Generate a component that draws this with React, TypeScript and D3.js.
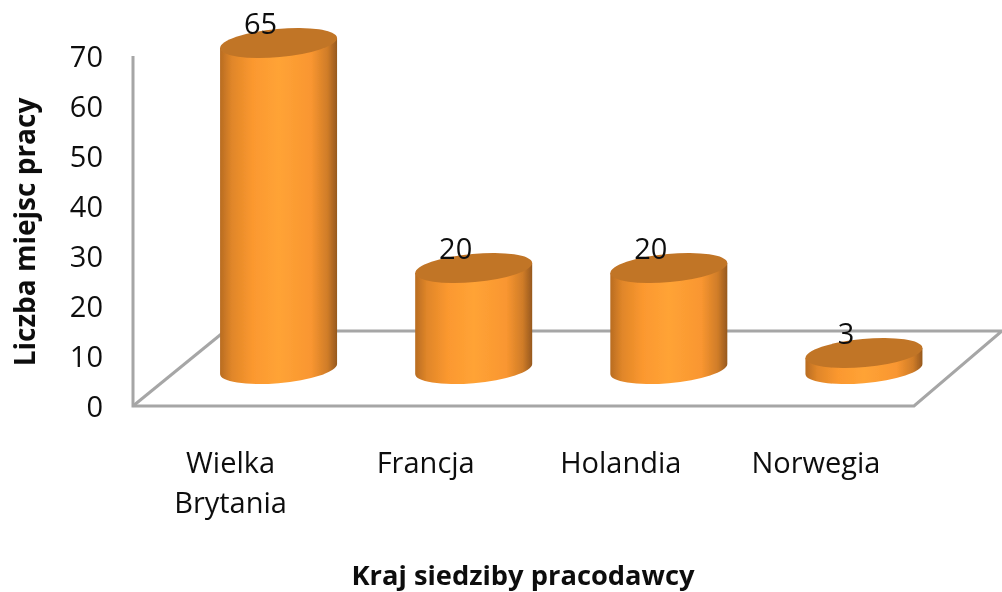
import React from "react";
import * as d3 from "d3";

const categories = ["Wielka Brytania", "Francja", "Holandia", "Norwegia"];
const categoryLines = [["Wielka", "Brytania"], ["Francja"], ["Holandia"], ["Norwegia"]];
const values = [65, 20, 20, 3];
const ticks = [0, 10, 20, 30, 40, 50, 60, 70];
const yTitle = "Liczba miejsc pracy";
const xTitle = "Kraj siedziby pracodawcy";

const W = 1002, H = 592;
const FONT = "'Open Sans', 'Noto Sans', sans-serif";

export default function App() {
  const y = d3.scaleLinear().domain([0, 70]).range([406, 56]);
  // band position of each cylinder on the floor
  const x = d3.scaleBand().domain(categories).range([181, 961.5]).paddingInner(0).paddingOuter(0);
  const depthY = 37;
  const a = 58.7, b = 14.1, rot = -5.2, hw = 58.5, tan = 5;
  const axis = "#a6a6a6";

  return (
    <svg width={W} height={H} viewBox={`0 0 ${W} ${H}`} style={{ position: "absolute", left: 0, top: 0, display: "block", background: "#fff" }}>
      <defs>
        <linearGradient id="cyl" x1="0" x2="1" y1="0" y2="0">
          <stop offset="0" stopColor="#b86c22" />
          <stop offset="0.1" stopColor="#e08629" />
          <stop offset="0.28" stopColor="#fb982f" />
          <stop offset="0.5" stopColor="#ffa336" />
          <stop offset="0.78" stopColor="#f99630" />
          <stop offset="0.92" stopColor="#cf7c28" />
          <stop offset="1" stopColor="#96581e" />
        </linearGradient>
        <filter id="soft" x="-5%" y="-5%" width="110%" height="110%">
          <feGaussianBlur stdDeviation="0.6" />
        </filter>
      </defs>
      <g filter="url(#soft)">
        <g fill="none" stroke={axis} strokeWidth={3}>
          <path d={`M133 ${y(70)}V${y(0)}H914L1002 331H${x(categories[0])! + 50}`} />
          <path d={`M${y(0) - 273} ${y(0)}L225 331`} />
        </g>
        {categories.map((c, i) => {
          const cx = x(c)! + x.bandwidth() / 2;
          const base = y(0) - depthY;
          const top = y(values[i]) - depthY - 1;
          const body = `M${cx - hw} ${top + tan}V${base + tan}A${a} ${b} ${rot} 0 0 ${cx + hw} ${base - tan}V${top - tan}Z`;
          return (
            <g key={c}>
              <path d={body} fill="url(#cyl)" />
              <ellipse cx={cx} cy={top} rx={a} ry={b} transform={`rotate(${rot} ${cx} ${top})`} fill="#c17528" />
            </g>
          );
        })}
        <g fontFamily={FONT} fill="#111" fontSize={29}>
          {ticks.map((t) => (
            <text key={t} x={103} y={y(t) + 11} textAnchor="end">{t}</text>
          ))}
          {categories.map((c, i) => {
            const cx = x(c)! + x.bandwidth() / 2;
            return (
              <g key={c}>
                {categoryLines[i].map((l, j) => (
                  <text key={l} x={cx - 48} y={473 + j * 40} textAnchor="middle">{l}</text>
                ))}
                <text x={cx - 18} y={y(values[i]) - depthY - 10} textAnchor="middle">{values[i]}</text>
              </g>
            );
          })}
        </g>
        <g fontFamily={FONT} fontWeight={700} fill="#111">
          <text transform="translate(35 232) rotate(-90)" textAnchor="middle" fontSize={28}>{yTitle}</text>
          <text x={523} y={585} textAnchor="middle" fontSize={27.3}>{xTitle}</text>
        </g>
      </g>
    </svg>
  );
}
